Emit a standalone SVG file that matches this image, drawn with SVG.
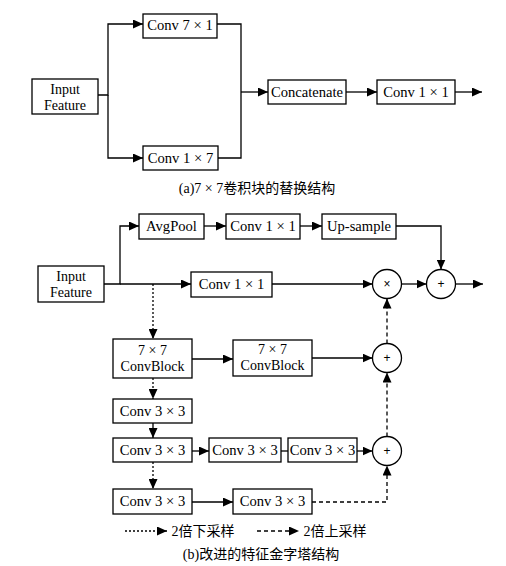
<svg xmlns="http://www.w3.org/2000/svg" width="506" height="566" viewBox="0 0 506 566">
<style>
.box{fill:#fff;stroke:#000;stroke-width:1.3}
.t{font-family:"Liberation Serif","Noto Sans CJK SC",serif;font-size:14.6px;fill:#000;text-anchor:middle}
.t2{font-family:"Liberation Serif","Noto Sans CJK SC",serif;font-size:14px;fill:#000;text-anchor:middle}
.cap{font-family:"Liberation Serif","Noto Sans CJK SC",serif;font-size:14px;fill:#000;text-anchor:middle}
.op{font-family:"Liberation Sans",sans-serif;font-size:12px;fill:#000;text-anchor:middle}
.c{fill:none;stroke:#000;stroke-width:1.3}
.dot{stroke-dasharray:2,2}
.dash{stroke-dasharray:4,3}
</style>
<defs>
<marker id="ah" markerUnits="userSpaceOnUse" markerWidth="10" markerHeight="9" refX="10" refY="4.5" orient="auto">
<path d="M0,0 L10,4.5 L0,9 z" fill="#000"/>
</marker>
</defs>
<rect width="506" height="566" fill="#fff"/>
<g id="connectors">
<!-- (a) -->
<path class="c" d="M98,95 H108 V24 H143" marker-end="url(#ah)"/>
<path class="c" d="M108,95 V158 H143" marker-end="url(#ah)"/>
<path class="c" d="M217,24 H241 V158 H218"/>
<path class="c" d="M241,92 H268" marker-end="url(#ah)"/>
<path class="c" d="M346,92 H377" marker-end="url(#ah)"/>
<path class="c" d="M455,92 H482" marker-end="url(#ah)"/>
<!-- (b) -->
<path class="c" d="M104,284 H120 V226 H139" marker-end="url(#ah)"/>
<path class="c" d="M204,226 H226" marker-end="url(#ah)"/>
<path class="c" d="M300,226 H322" marker-end="url(#ah)"/>
<path class="c" d="M396,226 H441 V269.5" marker-end="url(#ah)"/>
<path class="c" d="M120,284 H191" marker-end="url(#ah)"/>
<path class="c" d="M272,284 H372.5" marker-end="url(#ah)"/>
<path class="c" d="M401.5,284 H426.5" marker-end="url(#ah)"/>
<path class="c" d="M455.5,284 H483" marker-end="url(#ah)"/>
<path class="c dot" d="M153,284 V339" marker-end="url(#ah)"/>
<path class="c" d="M192,359 H233" marker-end="url(#ah)"/>
<path class="c" d="M312,358 H372.5" marker-end="url(#ah)"/>
<path class="c dash" d="M387,343.5 V298.5" marker-end="url(#ah)"/>
<path class="c dot" d="M153,378 V399" marker-end="url(#ah)"/>
<path class="c" d="M153,423 V438" marker-end="url(#ah)"/>
<path class="c" d="M192,451 H209" marker-end="url(#ah)"/>
<path class="c" d="M281,451 H288"/>
<path class="c" d="M357,451 H372.5" marker-end="url(#ah)"/>
<path class="c dash" d="M387,436.5 V372.5" marker-end="url(#ah)"/>
<path class="c dot" d="M153,462 V489" marker-end="url(#ah)"/>
<path class="c" d="M192,502 H233" marker-end="url(#ah)"/>
<path class="c dash" d="M312,502 H387 V465.5" marker-end="url(#ah)"/>
<!-- legend -->
<path class="c dot" d="M125,531 H167" marker-end="url(#ah)"/>
<path class="c dash" d="M257,531 H299" marker-end="url(#ah)"/>
</g>
<!-- (a) nodes -->
<g id="a_input"><rect class="box" x="32" y="79" width="66" height="35"/><text class="t2" x="65" y="94">Input</text><text class="t2" x="65" y="110">Feature</text></g>
<g id="a_conv71"><rect class="box" x="143" y="14" width="74" height="24"/><text class="t" x="180" y="30">Conv 7 × 1</text></g>
<g id="a_conv17"><rect class="box" x="143" y="146" width="75" height="24"/><text class="t" x="180.5" y="163">Conv 1 × 7</text></g>
<g id="a_concat"><rect class="box" x="268" y="80" width="78" height="24"/><text class="t" x="307" y="97">Concatenate</text></g>
<g id="a_conv11"><rect class="box" x="377" y="80" width="78" height="24"/><text class="t" x="416" y="97">Conv 1 × 1</text></g>
<text class="cap" x="257" y="193">(a)7 × 7卷积块的替换结构</text>
<!-- (b) nodes -->
<g id="b_input"><rect class="box" x="38" y="266" width="66" height="36"/><text class="t2" x="71" y="281">Input</text><text class="t2" x="71" y="297">Feature</text></g>
<g id="b_avgpool"><rect class="box" x="139" y="214" width="65" height="25"/><text class="t" x="171.5" y="231">AvgPool</text></g>
<g id="b_conv11top"><rect class="box" x="226" y="214" width="74" height="25"/><text class="t" x="263" y="231">Conv 1 × 1</text></g>
<g id="b_upsample"><rect class="box" x="322" y="214" width="74" height="25"/><text class="t" x="359" y="231">Up-sample</text></g>
<g id="b_conv11mid"><rect class="box" x="191" y="272" width="81" height="25"/><text class="t" x="231.5" y="289">Conv 1 × 1</text></g>
<g id="b_mul"><circle class="box" cx="387" cy="284" r="14.5"/><text class="op" x="387" y="288">×</text></g>
<g id="b_add1"><circle class="box" cx="441" cy="284" r="14.5"/><text class="op" x="441" y="288">+</text></g>
<g id="b_cb1"><rect class="box" x="113" y="339" width="79" height="39"/><text class="t2" x="152.5" y="355">7 × 7</text><text class="t2" x="152.5" y="371">ConvBlock</text></g>
<g id="b_cb2"><rect class="box" x="233" y="340" width="79" height="36"/><text class="t2" x="272.5" y="354">7 × 7</text><text class="t2" x="272.5" y="370">ConvBlock</text></g>
<g id="b_add2"><circle class="box" cx="387" cy="358" r="14.5"/><text class="op" x="387" y="362">+</text></g>
<g id="b_c33a"><rect class="box" x="113" y="399" width="79" height="24"/><text class="t" x="152.5" y="416">Conv 3 × 3</text></g>
<g id="b_c33b"><rect class="box" x="113" y="438" width="79" height="24"/><text class="t" x="152.5" y="455">Conv 3 × 3</text></g>
<g id="b_c33c"><rect class="box" x="209" y="438" width="72" height="24"/><text class="t" x="245" y="455">Conv 3 × 3</text></g>
<g id="b_c33d"><rect class="box" x="288" y="438" width="69" height="24"/><text class="t" x="322.5" y="455">Conv 3 × 3</text></g>
<g id="b_add3"><circle class="box" cx="387" cy="451" r="14.5"/><text class="op" x="387" y="455">+</text></g>
<g id="b_c33e"><rect class="box" x="113" y="489" width="79" height="25"/><text class="t" x="152.5" y="506">Conv 3 × 3</text></g>
<g id="b_c33f"><rect class="box" x="233" y="489" width="79" height="25"/><text class="t" x="272.5" y="506">Conv 3 × 3</text></g>
<text class="cap" x="203" y="536">2倍下采样</text>
<text class="cap" x="335" y="536">2倍上采样</text>
<text class="cap" x="261" y="559">(b)改进的特征金字塔结构</text>
</svg>
